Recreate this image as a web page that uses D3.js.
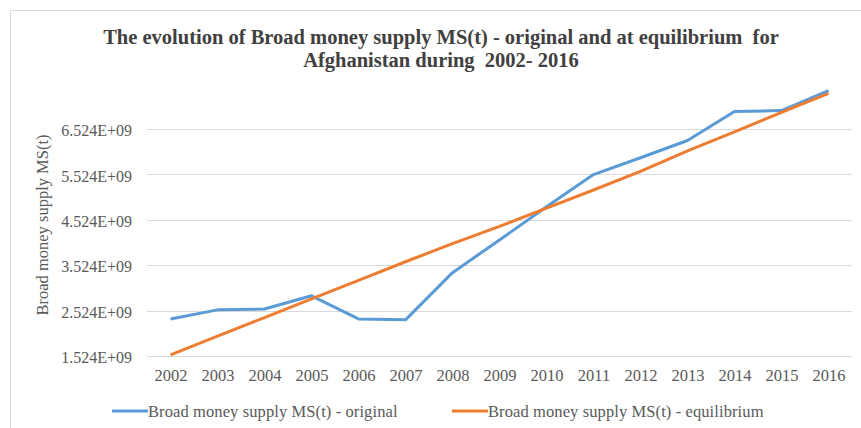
<!DOCTYPE html>
<html>
<head>
<meta charset="utf-8">
<script src="https://cdn.jsdelivr.net/npm/d3@7"></script>
<style>
  body { margin: 0; background: #fff; }
  text { font-family: "Liberation Serif", "DejaVu Serif", serif; white-space: pre; }
</style>
</head>
<body>
<div id="chart"></div>
<script>
// chart data
var years = ["2002", "2003", "2004", "2005", "2006", "2007", "2008", "2009",
             "2010", "2011", "2012", "2013", "2014", "2015", "2016"];
var original = [2.34e9, 2.54e9, 2.56e9, 2.85e9, 2.34e9, 2.32e9, 3.36e9, 4.08e9,
                4.81e9, 5.52e9, 5.89e9, 6.27e9, 6.91e9, 6.93e9, 7.37e9];
var equilibrium = [1.55e9, 1.96e9, 2.37e9, 2.78e9, 3.19e9, 3.60e9, 4.00e9, 4.38e9,
                   4.78e9, 5.18e9, 5.59e9, 6.04e9, 6.46e9, 6.89e9, 7.31e9];
var yTicks = [1.524e9, 2.524e9, 3.524e9, 4.524e9, 5.524e9, 6.524e9];
var seriesNames = ["Broad money supply MS(t) - original", "Broad money supply MS(t) - equilibrium"];

var svgWidth = 861;
var svgHeight = 428;

var margin = { top: 129, right: 9, bottom: 72, left: 147 };
var chartWidth = svgWidth - margin.left - margin.right;
var chartHeight = 356 - margin.top;

var svg = d3.select("#chart")
  .append("svg")
  .attr("width", svgWidth)
  .attr("height", svgHeight);

// outer chart border
svg.append("rect")
  .attr("x", 10.5).attr("y", 10.5)
  .attr("width", 870).attr("height", 440)
  .attr("fill", "none")
  .attr("stroke", "#d9d9d9");

// title
var title = svg.append("text")
  .attr("text-anchor", "middle")
  .attr("font-size", "20.5px")
  .attr("font-weight", "bold")
  .attr("fill", "#404040");
title.append("tspan").attr("x", 441).attr("y", 44)
  .text("The evolution of Broad money supply MS(t) - original and at equilibrium  for");
title.append("tspan").attr("x", 441).attr("y", 67)
  .text("Afghanistan during  2002- 2016");

var chartGroup = svg.append("g")
  .attr("transform", `translate(${margin.left}, ${margin.top})`);

var xScale = d3.scalePoint()
  .domain(years)
  .range([0, chartWidth])
  .padding(0.5);

var yScale = d3.scaleLinear()
  .domain([1.524e9, 6.524e9])
  .range([chartHeight, 0]);

// gridlines
chartGroup.append("g")
  .selectAll("line")
  .data(yTicks)
  .enter()
  .append("line")
  .attr("x1", 0)
  .attr("x2", chartWidth)
  .attr("y1", d => Math.round(yScale(d)) + 0.5)
  .attr("y2", d => Math.round(yScale(d)) + 0.5)
  .attr("stroke", "#d9d9d9")
  .attr("stroke-width", 1);

// y axis labels
var yAxis = d3.axisLeft(yScale)
  .tickValues(yTicks)
  .tickSize(0)
  .tickPadding(15)
  .tickFormat(d => (d / 1e9).toFixed(3) + "E+09");
var yg = chartGroup.append("g").call(yAxis);
yg.select(".domain").remove();
yg.selectAll("text")
  .attr("font-family", "Liberation Serif, serif")
  .attr("font-size", "16px")
  .attr("dy", "0.42em")
  .attr("fill", "#595959");

// x axis labels
var xAxis = d3.axisBottom(xScale).tickSize(0).tickPadding(13);
var xg = chartGroup.append("g")
  .attr("transform", `translate(0, ${chartHeight})`)
  .call(xAxis);
xg.select(".domain").remove();
xg.selectAll("text")
  .attr("font-family", "Liberation Serif, serif")
  .attr("font-size", "16.5px")
  .attr("fill", "#595959");

// lines
var line = d3.line()
  .x((d, i) => xScale(years[i]))
  .y(d => yScale(d));

var colors = ["#5b9bd5", "#ed7d31"];

chartGroup.append("path")
  .datum(original)
  .attr("d", line)
  .attr("fill", "none")
  .attr("stroke", colors[0])
  .attr("stroke-width", 3)
  .attr("stroke-linejoin", "round");

chartGroup.append("path")
  .datum(equilibrium)
  .attr("d", line)
  .attr("fill", "none")
  .attr("stroke", colors[1])
  .attr("stroke-width", 3)
  .attr("stroke-linejoin", "round");

// y axis title
svg.append("text")
  .attr("transform", "translate(48, 225) rotate(-90)")
  .attr("text-anchor", "middle")
  .attr("font-size", "16.5px")
  .attr("fill", "#595959")
  .text("Broad money supply MS(t)");

// legend
var legendX = [112, 452];
seriesNames.forEach(function(name, i) {
  var g = svg.append("g").attr("transform", `translate(${legendX[i]}, 411)`);
  g.append("line")
    .attr("x1", 0).attr("x2", 36)
    .attr("y1", 0).attr("y2", 0)
    .attr("stroke", colors[i])
    .attr("stroke-width", 3);
  g.append("text")
    .attr("x", 36)
    .attr("y", 5.5)
    .attr("font-size", "16.5px")
    .attr("letter-spacing", "0.1px")
    .attr("fill", "#595959")
    .text(name);
});
</script>
</body>
</html>
